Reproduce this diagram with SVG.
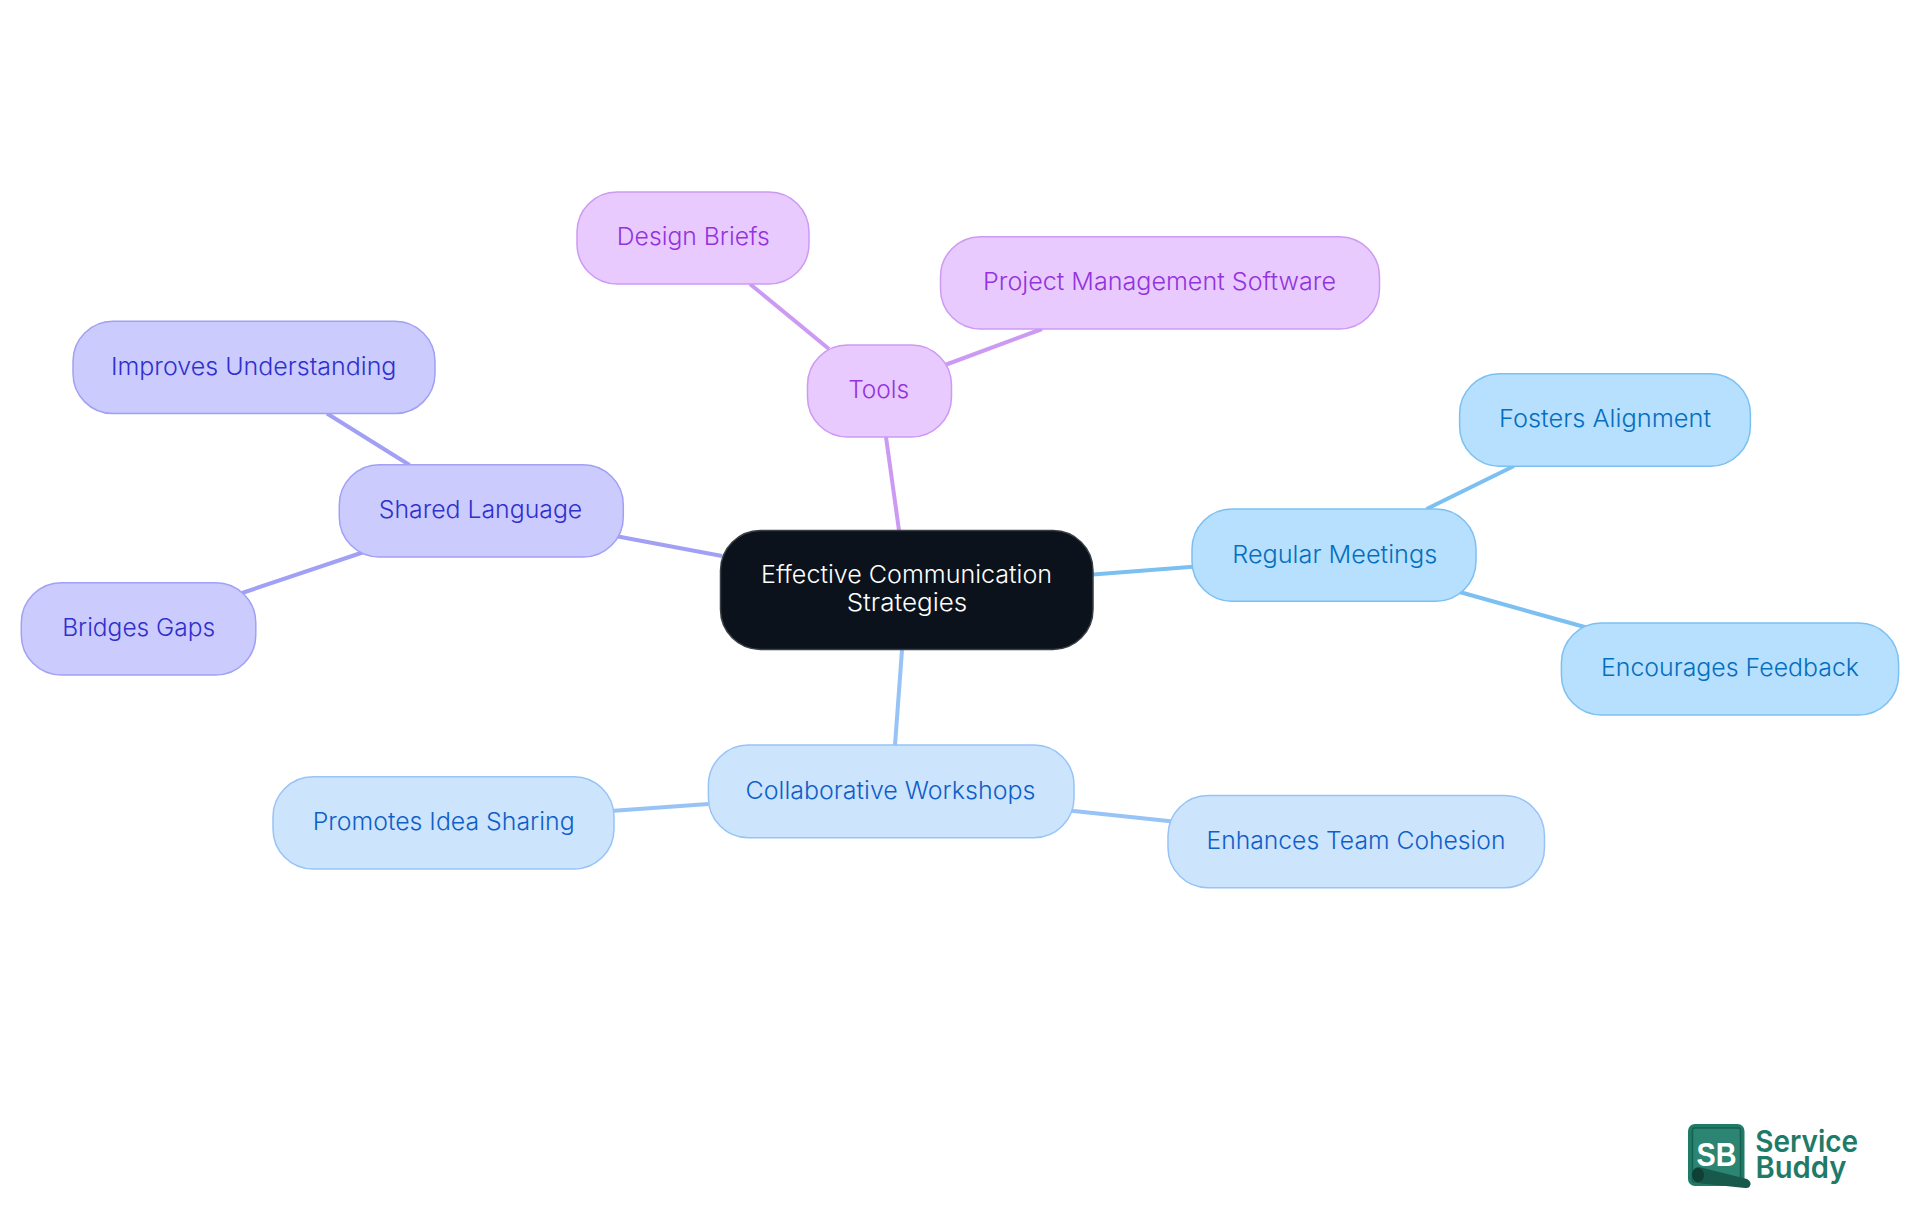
<svg xmlns="http://www.w3.org/2000/svg" width="1920" height="1215" viewBox="0 0 1920 1215">
<style>
text{font-family:"Inter","Noto Sans",sans-serif;font-size:24px;font-weight:350;text-anchor:middle}
.n{stroke-width:1.5}
.c{fill:none;stroke-width:4}
.p rect{fill:#e9caff;stroke:#cd9af3}.p text{fill:#9333dd}.pc{stroke:#cd9af3}
.v rect{fill:#cbcbfe;stroke:#a1a0f5}.v text{fill:#3030cc}.vc{stroke:#a1a0f5}
.s rect{fill:#b6e0fe;stroke:#7cc0f2}.s text{fill:#056ebd}.sc{stroke:#7cc0f2}
.b rect{fill:#cde4fd;stroke:#97c3f6}.b text{fill:#0f5fc9}.bc{stroke:#97c3f6}
.lg{font-size:30px;font-weight:600;text-anchor:start;fill:#1f7a68}
</style>
<rect width="1920" height="1215" fill="#fff"/>
<g id="connectors">
<path class="c pc" d="M902 552L886 437"/><path class="c pc" d="M750 284L829 349"/><path class="c pc" d="M945 365L1042 329"/>
<path class="c vc" d="M722 556L618 536.500"/><path class="c vc" d="M327 413.500L409.500 465"/><path class="c vc" d="M242 593L362.500 552.500"/>
<path class="c sc" d="M1093 574.500L1193 566.700"/><path class="c sc" d="M1426.500 509L1514 466"/><path class="c sc" d="M1460.500 592.300L1585.600 627.300"/>
<path class="c bc" d="M902 650L895 745"/><path class="c bc" d="M614 810.700L708.400 804"/><path class="c bc" d="M1071.400 810.700L1170.700 821.300"/>
</g>
<g id="center"><rect x="720.500" y="530.500" width="372.500" height="119" rx="40" fill="#0b121b" stroke="#3a3f46" stroke-width="1.500"/><text x="906.500" y="583.300" fill="#fff" textLength="291" lengthAdjust="spacingAndGlyphs">Effective Communication</text><text x="907" y="610.700" fill="#fff" textLength="120.600" lengthAdjust="spacingAndGlyphs">Strategies</text></g>
<g id="tools" class="p"><rect class="n" x="807.500" y="345" width="144" height="92" rx="40"/><text x="878.700" y="397.700" textLength="61" lengthAdjust="spacingAndGlyphs">Tools</text></g>
<g id="design-briefs" class="p"><rect class="n" x="577" y="192" width="232" height="92" rx="40"/><text x="693.300" y="245" textLength="153" lengthAdjust="spacingAndGlyphs">Design Briefs</text></g>
<g id="project-management" class="p"><rect class="n" x="940.500" y="236.700" width="439" height="92.300" rx="40"/><text x="1159.500" y="290" textLength="353" lengthAdjust="spacingAndGlyphs">Project Management Software</text></g>
<g id="shared-language" class="v"><rect class="n" x="339.300" y="464.700" width="284" height="92.300" rx="40"/><text x="480.500" y="518" textLength="203.500" lengthAdjust="spacingAndGlyphs">Shared Language</text></g>
<g id="improves" class="v"><rect class="n" x="73" y="321.300" width="362" height="92.300" rx="40"/><text x="253.700" y="375" textLength="285.500" lengthAdjust="spacingAndGlyphs">Improves Understanding</text></g>
<g id="bridges" class="v"><rect class="n" x="21.300" y="582.700" width="234.500" height="92.300" rx="40"/><text x="138.700" y="636" textLength="153" lengthAdjust="spacingAndGlyphs">Bridges Gaps</text></g>
<g id="regular-meetings" class="s"><rect class="n" x="1192" y="509" width="284" height="92.300" rx="40"/><text x="1334.700" y="562.700" textLength="205" lengthAdjust="spacingAndGlyphs">Regular Meetings</text></g>
<g id="fosters" class="s"><rect class="n" x="1459.600" y="373.700" width="290.800" height="92.500" rx="40"/><text x="1605" y="427" textLength="212" lengthAdjust="spacingAndGlyphs">Fosters Alignment</text></g>
<g id="encourages" class="s"><rect class="n" x="1561.400" y="623" width="337.200" height="92" rx="40"/><text x="1730" y="675.700" textLength="258" lengthAdjust="spacingAndGlyphs">Encourages Feedback</text></g>
<g id="collaborative" class="b"><rect class="n" x="708.400" y="745" width="365.600" height="92.700" rx="40"/><text x="890.500" y="799" textLength="290" lengthAdjust="spacingAndGlyphs">Collaborative Workshops</text></g>
<g id="promotes" class="b"><rect class="n" x="273" y="776.700" width="341" height="92.300" rx="40"/><text x="443.700" y="830" textLength="262" lengthAdjust="spacingAndGlyphs">Promotes Idea Sharing</text></g>
<g id="enhances" class="b"><rect class="n" x="1168" y="795.500" width="376.500" height="92.200" rx="40"/><text x="1356" y="849" textLength="299" lengthAdjust="spacingAndGlyphs">Enhances Team Cohesion</text></g>
<g id="logo">
<rect x="1688" y="1124" width="56.500" height="62" rx="7" fill="#1f7a68"/>
<rect x="1692.500" y="1128" width="48" height="54" rx="2" fill="#2b8572" stroke="#17604f" stroke-width="1.500"/>
<text x="1716.500" y="1166" fill="#fff" textLength="40" lengthAdjust="spacingAndGlyphs" style="font-size:33px;font-weight:700;font-family:'Liberation Sans',sans-serif">SB</text>
<path d="M1699 1167L1747 1179Q1752 1182 1750 1186Q1749 1188.500 1745 1188L1697 1183Q1692 1180 1692 1174Q1693 1167 1699 1167Z" fill="#17594b"/>
<ellipse cx="1698" cy="1175" rx="6" ry="7" fill="#103f36"/>
<text class="lg" x="1755.200" y="1151.500" textLength="103" lengthAdjust="spacingAndGlyphs">Service</text>
<text class="lg" x="1755.500" y="1178" textLength="91" lengthAdjust="spacingAndGlyphs">Buddy</text>
</g>
</svg>
